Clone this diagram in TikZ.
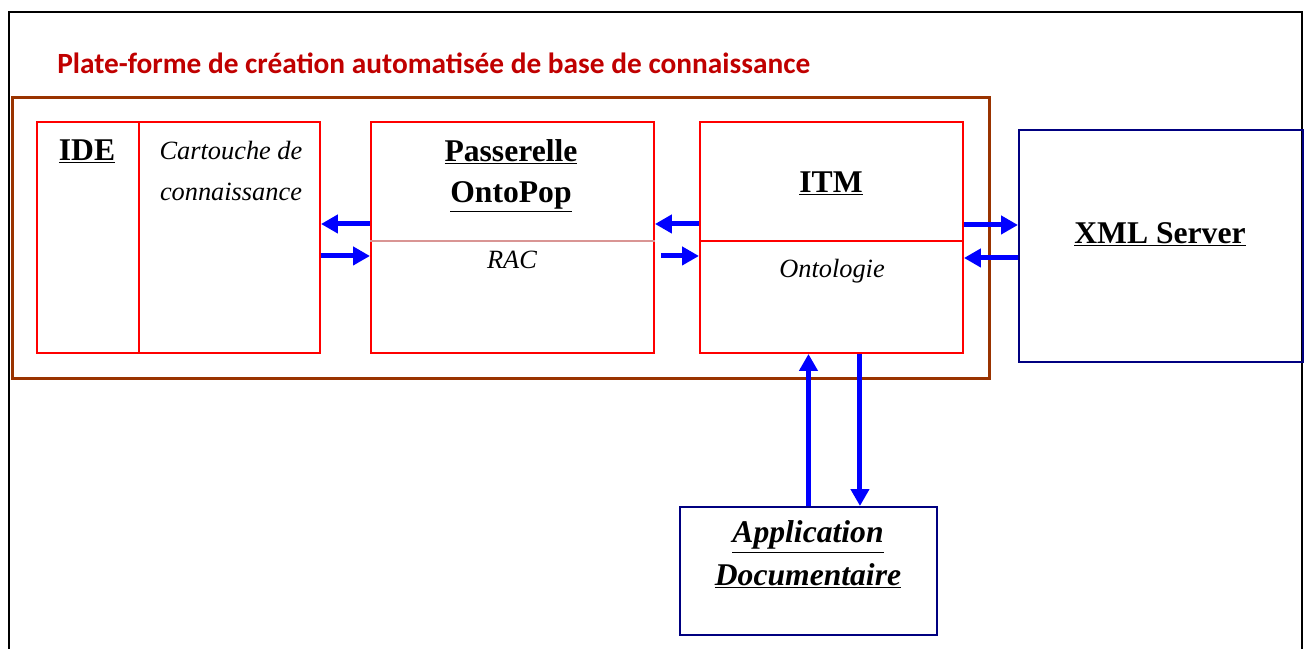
\documentclass[tikz,border=0pt]{standalone}
\usepackage{fontspec}
\setmainfont{Liberation Serif}
\newfontfamily\titlefont{Carlito}
\usetikzlibrary{arrows.meta}
\definecolor{titlered}{HTML}{C00000}
\definecolor{platbrown}{HTML}{993300}
\definecolor{rulepink}{HTML}{D99594}
\definecolor{servnavy}{HTML}{000080}

\tikzset{
  redbox/.style={draw=red, line width=0.04cm, minimum height=4.62cm, anchor=north west, inner sep=0pt},
  navybox/.style={draw=servnavy, line width=0.04cm, anchor=north west, inner sep=0pt},
  flow/.style={draw=blue, line width=0.1cm, -{Triangle[length=0.34cm,width=0.36cm]}},
  boldlabel/.style={font=\fontsize{18}{23.3}\selectfont\bfseries, anchor=base, align=center, inner sep=0pt},
  itallabel/.style={font=\fontsize{15}{22.8}\selectfont\itshape, anchor=base, align=center, inner sep=0pt},
}

\begin{document}
\begin{tikzpicture}[x=0.02cm,y=-0.02cm]
  \useasboundingbox (0,0) rectangle (1309,649);
  % outer frame, open at the bottom
  \draw[line width=0.05cm] (9,649) -- (9,12) -- (1302,12) -- (1302,649);

  \node[font=\titlefont\bfseries\fontsize{16.7}{19}\selectfont, text=titlered, anchor=base west, inner sep=0pt] (title) at (57,73) {Plate-forme de création automatisée de base de connaissance};
  \node[draw=platbrown, line width=0.06cm, minimum width=19.54cm, minimum height=5.62cm, anchor=north west, inner sep=0pt] (platform) at (11,96) {};

  % the boxes
  \node[redbox, minimum width=2.04cm] (ide) at (36,121) {};
  \node[redbox, minimum width=3.62cm] (cart) at (138,121) {};
  \node[redbox, minimum width=5.66cm] (pass) at (370,121) {};
  \node[redbox, minimum width=5.26cm] (itm) at (699,121) {};
  \node[navybox, minimum width=5.68cm, minimum height=4.64cm] (xml) at (1018,129) {};
  \node[navybox, minimum width=5.14cm, minimum height=2.56cm] (app) at (679,506) {};

  \draw[rulepink, line width=0.04cm] ([yshift=-0.07cm]pass.west) -- ([yshift=-0.07cm]pass.east);
  \draw[red, line width=0.04cm] ([yshift=-0.07cm]itm.west) -- ([yshift=-0.07cm]itm.east);

  % texts (base = last line)
  \node[boldlabel] (ideT) at (87,160) {\underline{IDE}};
  \node[itallabel] (cartT) at (231,200) {Cartouche de\\connaissance};
  \node[boldlabel] (passT) at (511,202) {\underline{Passerelle}\\\underline{OntoPop}};
  \node[itallabel] (racT) at (512,268) {RAC};
  \node[boldlabel] (itmT) at (831,192) {\underline{ITM}};
  \node[itallabel] (ontoT) at (832,277) {Ontologie};
  \node[boldlabel] (xmlT) at (1160,243) {\underline{XML Server}};
  \node[boldlabel, font=\fontsize{18}{24}\selectfont\bfseries\itshape] (appT) at (808,585) {\underline{Application}\\\underline{Documentaire}};

  % arrows
  \draw[flow] ([yshift=0.27cm]pass.west) -- ([yshift=0.27cm]pass.west -| cart.east);
  \draw[flow] ([yshift=-0.37cm]cart.east) -- ([yshift=-0.37cm]cart.east -| pass.west);
  \draw[flow] ([yshift=0.27cm]itm.west) -- ([yshift=0.27cm]itm.west -| pass.east);
  \draw[flow, shorten <=0.12cm] ([yshift=-0.37cm]pass.east) -- ([yshift=-0.37cm]pass.east -| itm.west);
  \draw[flow] ([yshift=0.25cm]itm.east) -- ([yshift=0.25cm]itm.east -| xml.west);
  \draw[flow] ([yshift=-0.41cm]itm.east -| xml.west) -- ([yshift=-0.41cm]itm.east);
  \draw[flow] (app.north) -- (app.north |- itm.south);
  \draw[flow] ([xshift=0.57cm]itm.south) -- ([xshift=0.57cm]itm.south |- app.north);
\end{tikzpicture}
\end{document}
